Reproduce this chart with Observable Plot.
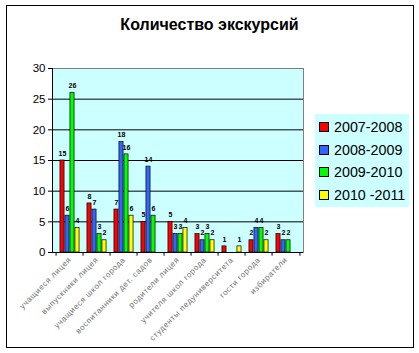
<!DOCTYPE html>
<html>
<head>
<meta charset="utf-8">
<script src="https://cdn.jsdelivr.net/npm/d3@7"></script>
<script src="https://cdn.jsdelivr.net/npm/@observablehq/plot@0.6"></script>
<style>
  html, body { margin: 0; padding: 0; background: #fff; }
  body { width: 419px; height: 353px; position: relative; overflow: hidden; font-family: "Liberation Sans", Arial, sans-serif; }
  #border { position: absolute; left: 6px; top: 5px; width: 406px; height: 341px; border: 1px solid #000; box-sizing: content-box; pointer-events: none; }
  #title { position: absolute; left: 0; width: 419px; top: 16px; text-align: center; font-weight: bold; font-size: 16px; color: #000; }
  #chart { position: absolute; left: 0; top: 0; }
  #chart g[aria-label="x-axis tick label"] text { letter-spacing: 0.6px; }
  #legend { position: absolute; left: 315px; top: 114px; width: 94px; height: 93px; background: #ccffff; }
  .item { position: absolute; left: 4px; height: 16px; display: flex; align-items: center; font-size: 14.3px; color: #000; white-space: pre; }
  .sw { width: 8px; height: 8px; border: 1px solid #000; margin-right: 5px; }
</style>
</head>
<body>
<div id="chart"></div>
<div id="title">Количество экскурсий</div>
<div id="legend"></div>
<div id="border"></div>
<script>
const categories = [
  "учащиеся лицея",
  "выпускники лицея",
  "учащиеся школ города",
  "воспитанники дет. садов",
  "родители лицея",
  "учителя школ города",
  "студенты педуниверситета",
  "гости города",
  "избиратели"
];
const seriesNames = ["2007-2008", "2008-2009", "2009-2010", "2010 -2011"];
const values2007 = [15, 8, 7, 5, 5, 3, 1, 2, 3];
const values2008 = [6, 7, 18, 14, 3, 2, null, 4, 2];
const values2009 = [26, 3, 16, 6, 3, 3, null, 4, 2];
const values2010 = [4, 2, 6, null, 4, 2, 1, 2, null];
const seriesColors = ["#ff0000", "#3366ff", "#00ff00", "#ffff00"];
const yTicks = [0, 5, 10, 15, 20, 25, 30];

const allValues = [values2007, values2008, values2009, values2010];
const rowsBySeries = allValues.map((vals, i) =>
  categories.map((c, j) => ({cat: c, series: seriesNames[i], value: vals[j]}))
    .filter(d => d.value != null)
);

const width = 419, height = 353;
const marginLeft = 52, marginRight = 116, marginTop = 68, marginBottom = 101;
const bw = (width - marginLeft - marginRight) / categories.length;
const barW = 5;
const sideIn = (bw - barW * 4) / 2;

const marks = [
  Plot.frame({fill: "#ccffff", stroke: "none"}),
  Plot.ruleY(yTicks.filter(t => t > 0 && t < 30), {y: d => d, stroke: "#000", strokeWidth: 1}),
  Plot.frame({stroke: "#808080"}),
];
rowsBySeries.forEach((rows, i) => {
  marks.push(Plot.barY(rows, {
    x: "cat", y: "value", fill: seriesColors[i], stroke: "#000", strokeWidth: 0.7,
    insetLeft: sideIn + barW * i, insetRight: sideIn + barW * (3 - i)
  }));
  marks.push(Plot.text(rows, {
    x: "cat", y: "value", text: d => String(d.value),
    dx: sideIn + barW * i + barW / 2 - bw / 2, dy: -7,
    fontSize: 7, fontWeight: "bold", fill: "#000"
  }));
});
marks.push(
  Plot.ruleY([0], {stroke: "#000"}),
  Plot.frame({anchor: "left", stroke: "#000"}),
  Plot.ruleX(categories, {x: d => d, dx: -bw / 2, y1: 0, y2: -0.6, stroke: "#000"}),
  Plot.ruleX([categories[categories.length - 1]], {x: d => d, dx: bw / 2, y1: 0, y2: -0.6, stroke: "#000"}),
  Plot.axisY({ticks: yTicks, tickSize: 4, tickPadding: 3, fontSize: 11.5, color: "#000"}),
  Plot.axisX({tickRotate: -45, tickSize: 0, tickPadding: 6, fontSize: 8, fill: "#707070", label: null})
);

const chart = Plot.plot({
  width, height, marginLeft, marginRight, marginTop, marginBottom,
  style: {fontFamily: "'Liberation Sans', Arial, sans-serif", background: "transparent"},
  x: {type: "band", domain: categories, padding: 0, label: null},
  y: {domain: [0, 30], label: null},
  marks
});
document.getElementById("chart").appendChild(chart);

const legend = document.getElementById("legend");
seriesNames.forEach((name, i) => {
  const item = document.createElement("div");
  item.className = "item";
  item.style.top = (5 + i * 22.7) + "px";
  const sw = document.createElement("div");
  sw.className = "sw";
  sw.style.background = seriesColors[i];
  item.appendChild(sw);
  item.appendChild(document.createTextNode(name));
  legend.appendChild(item);
});
</script>
</body>
</html>
